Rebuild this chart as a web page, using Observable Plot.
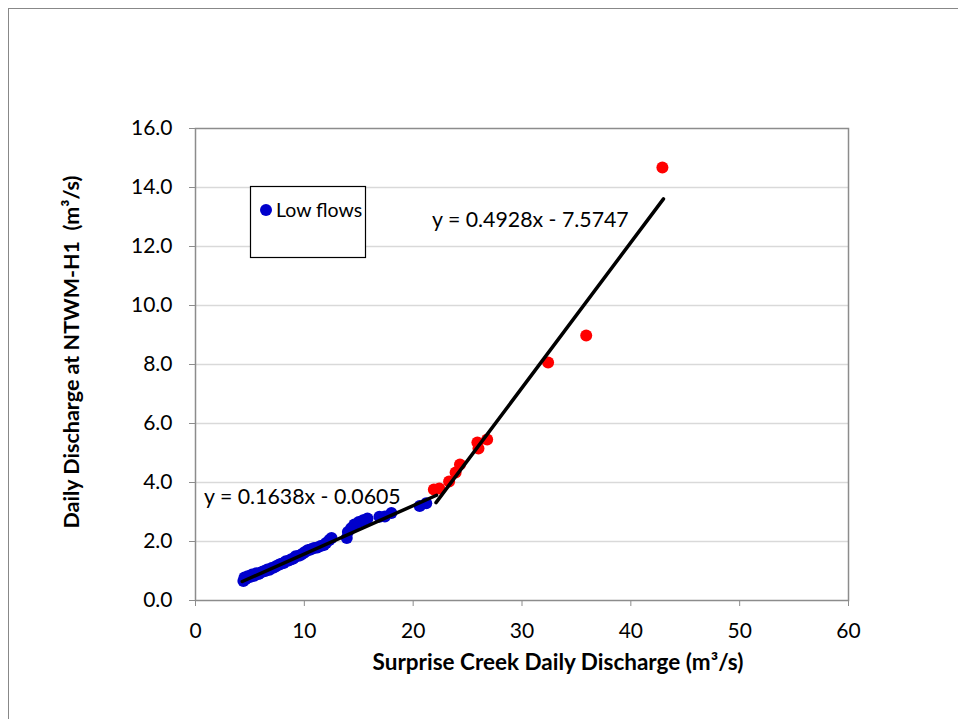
<!DOCTYPE html>
<html>
<head>
<meta charset="utf-8">
<script src="https://cdn.jsdelivr.net/npm/d3@7"></script>
<script src="https://cdn.jsdelivr.net/npm/@observablehq/plot@0.6"></script>
<style>
  html, body { margin: 0; padding: 0; background: #fff; }
  #wrap { position: relative; width: 958px; height: 719px; overflow: hidden; }
  #border { position: absolute; left: 8px; top: 8px; width: 1000px; height: 800px; border: 1px solid #888; box-sizing: border-box; }
  #chart { position: absolute; left: 0; top: 0; }
  svg text { font-family: Lato, "Open Sans", sans-serif; }
</style>
</head>
<body>
<div id="wrap"><div id="border"></div><div id="chart"></div></div>
<script>
// ---- data ----
const lowX = [4.4,4.5,4.6,4.8,5.0,5.2,5.4,5.6,5.8,6.0,6.2,6.4,6.6,6.8,7.0,7.2,7.4,7.7,7.9,8.1,8.3,8.6,8.8,9.0,9.2,9.5,9.7,9.9,10.1,10.3,10.5,10.7,10.9,11.2,11.5,11.8,12.0,12.3,12.5,13.9,14.0,14.3,14.6,15.0,15.4,15.8,16.9,17.4,18.0,20.6,21.2];
const lowY = [0.66,0.78,0.72,0.82,0.80,0.88,0.84,0.92,0.90,0.95,0.98,1.00,1.05,1.04,1.10,1.12,1.16,1.22,1.25,1.27,1.33,1.36,1.40,1.42,1.50,1.52,1.55,1.60,1.65,1.70,1.72,1.75,1.78,1.80,1.85,1.88,1.95,2.05,2.12,2.12,2.32,2.45,2.58,2.66,2.72,2.78,2.84,2.85,2.97,3.20,3.30];
const highX = [21.9,22.4,23.3,23.9,24.3,25.9,26.0,26.8,32.4,35.9,42.9];
const highY = [3.76,3.80,4.03,4.34,4.61,5.36,5.15,5.46,8.07,8.98,14.68];

// trendlines: slope, intercept, x range
const lowFit  = {slope: 0.1638, intercept: -0.0605, x0: 4.3, x1: 22.15, label: "y = 0.1638x - 0.0605"};
const highFit = {slope: 0.4928, intercept: -7.5747, x0: 22.1, x1: 43.0, label: "y = 0.4928x - 7.5747"};

const xTicks = [0,10,20,30,40,50,60];
const yTicks = [0,2,4,6,8,10,12,14,16];
const gridTicks = [2,4,6,8,10,12,14];

const xTitle = "Surprise Creek Daily Discharge (m³/s)";
const yTitle = "Daily Discharge at NTWM-H1  (m³/s)";
const legendLabel = "Low flows";

// ---- build tables ----
const lowPts = lowX.map((x,i) => ({x, y: lowY[i]}));
const highPts = highX.map((x,i) => ({x, y: highY[i]}));
const fitLine = f => [f.x0, f.x1].map(x => ({x, y: f.slope * x + f.intercept}));

const AX = "#8c8c8c";
const plot = Plot.plot({
  width: 958, height: 719,
  marginLeft: 195, marginRight: 110, marginTop: 128, marginBottom: 119,
  style: {fontFamily: "Lato, 'Open Sans', sans-serif", fontSize: "21px", color: "#000", background: "transparent", overflow: "visible"},
  x: {domain: [0, 60]},
  y: {domain: [0, 16]},
  marks: [
    Plot.gridY(gridTicks, {stroke: "#d9d9d9", strokeOpacity: 1, strokeWidth: 1.5}),
    Plot.axisX(xTicks, {tickSize: 6, tickPadding: 17, stroke: AX, fill: "#000", tickFormat: d => d, label: null, fontSize: 21}),
    Plot.axisY(yTicks, {tickSize: 6, tickPadding: 17, stroke: AX, fill: "#000", tickFormat: d => d.toFixed(1), label: null, fontSize: 21}),
    Plot.frame({stroke: AX, strokeWidth: 1.5}),
    Plot.dot(lowPts, {x: "x", y: "y", r: 6, fill: "#0000cc", stroke: "none"}),
    Plot.dot(highPts, {x: "x", y: "y", r: 6, fill: "#ff0000", stroke: "none"}),
    Plot.line(fitLine(lowFit), {x: "x", y: "y", stroke: "#000", strokeWidth: 3.5}),
    Plot.line(fitLine(highFit), {x: "x", y: "y", stroke: "#000", strokeWidth: 3.5})
  ]
});
document.getElementById("chart").appendChild(plot);

// ---- annotations (text) ----
const svg = d3.select(plot);
const font = "Lato, 'Open Sans', sans-serif";

svg.append("text").attr("x", 558).attr("y", 670).attr("text-anchor", "middle")
  .attr("font-family", font).attr("font-size", 22.5).attr("font-weight", "bold").text(xTitle);
svg.append("text").attr("transform", "translate(79,352) rotate(-90)").attr("text-anchor", "middle")
  .attr("font-family", font).attr("font-size", 21.5).attr("font-weight", "bold").text(yTitle);

svg.append("text").attr("x", 204).attr("y", 504).attr("text-anchor", "start")
  .attr("font-family", font).attr("font-size", 21.3).text(lowFit.label);
svg.append("text").attr("x", 432).attr("y", 227).attr("text-anchor", "start")
  .attr("font-family", font).attr("font-size", 21.3).text(highFit.label);

// legend box
const lg = svg.append("g");
lg.append("rect").attr("x", 250.5).attr("y", 186.5).attr("width", 115).attr("height", 71)
  .attr("fill", "#fff").attr("stroke", "#000").attr("stroke-width", 1.2);
lg.append("circle").attr("cx", 266).attr("cy", 210).attr("r", 6).attr("fill", "#0000cc");
lg.append("text").attr("x", 276).attr("y", 217).attr("text-anchor", "start")
  .attr("font-family", font).attr("font-size", 19.5).text(legendLabel);
</script>
</body>
</html>
